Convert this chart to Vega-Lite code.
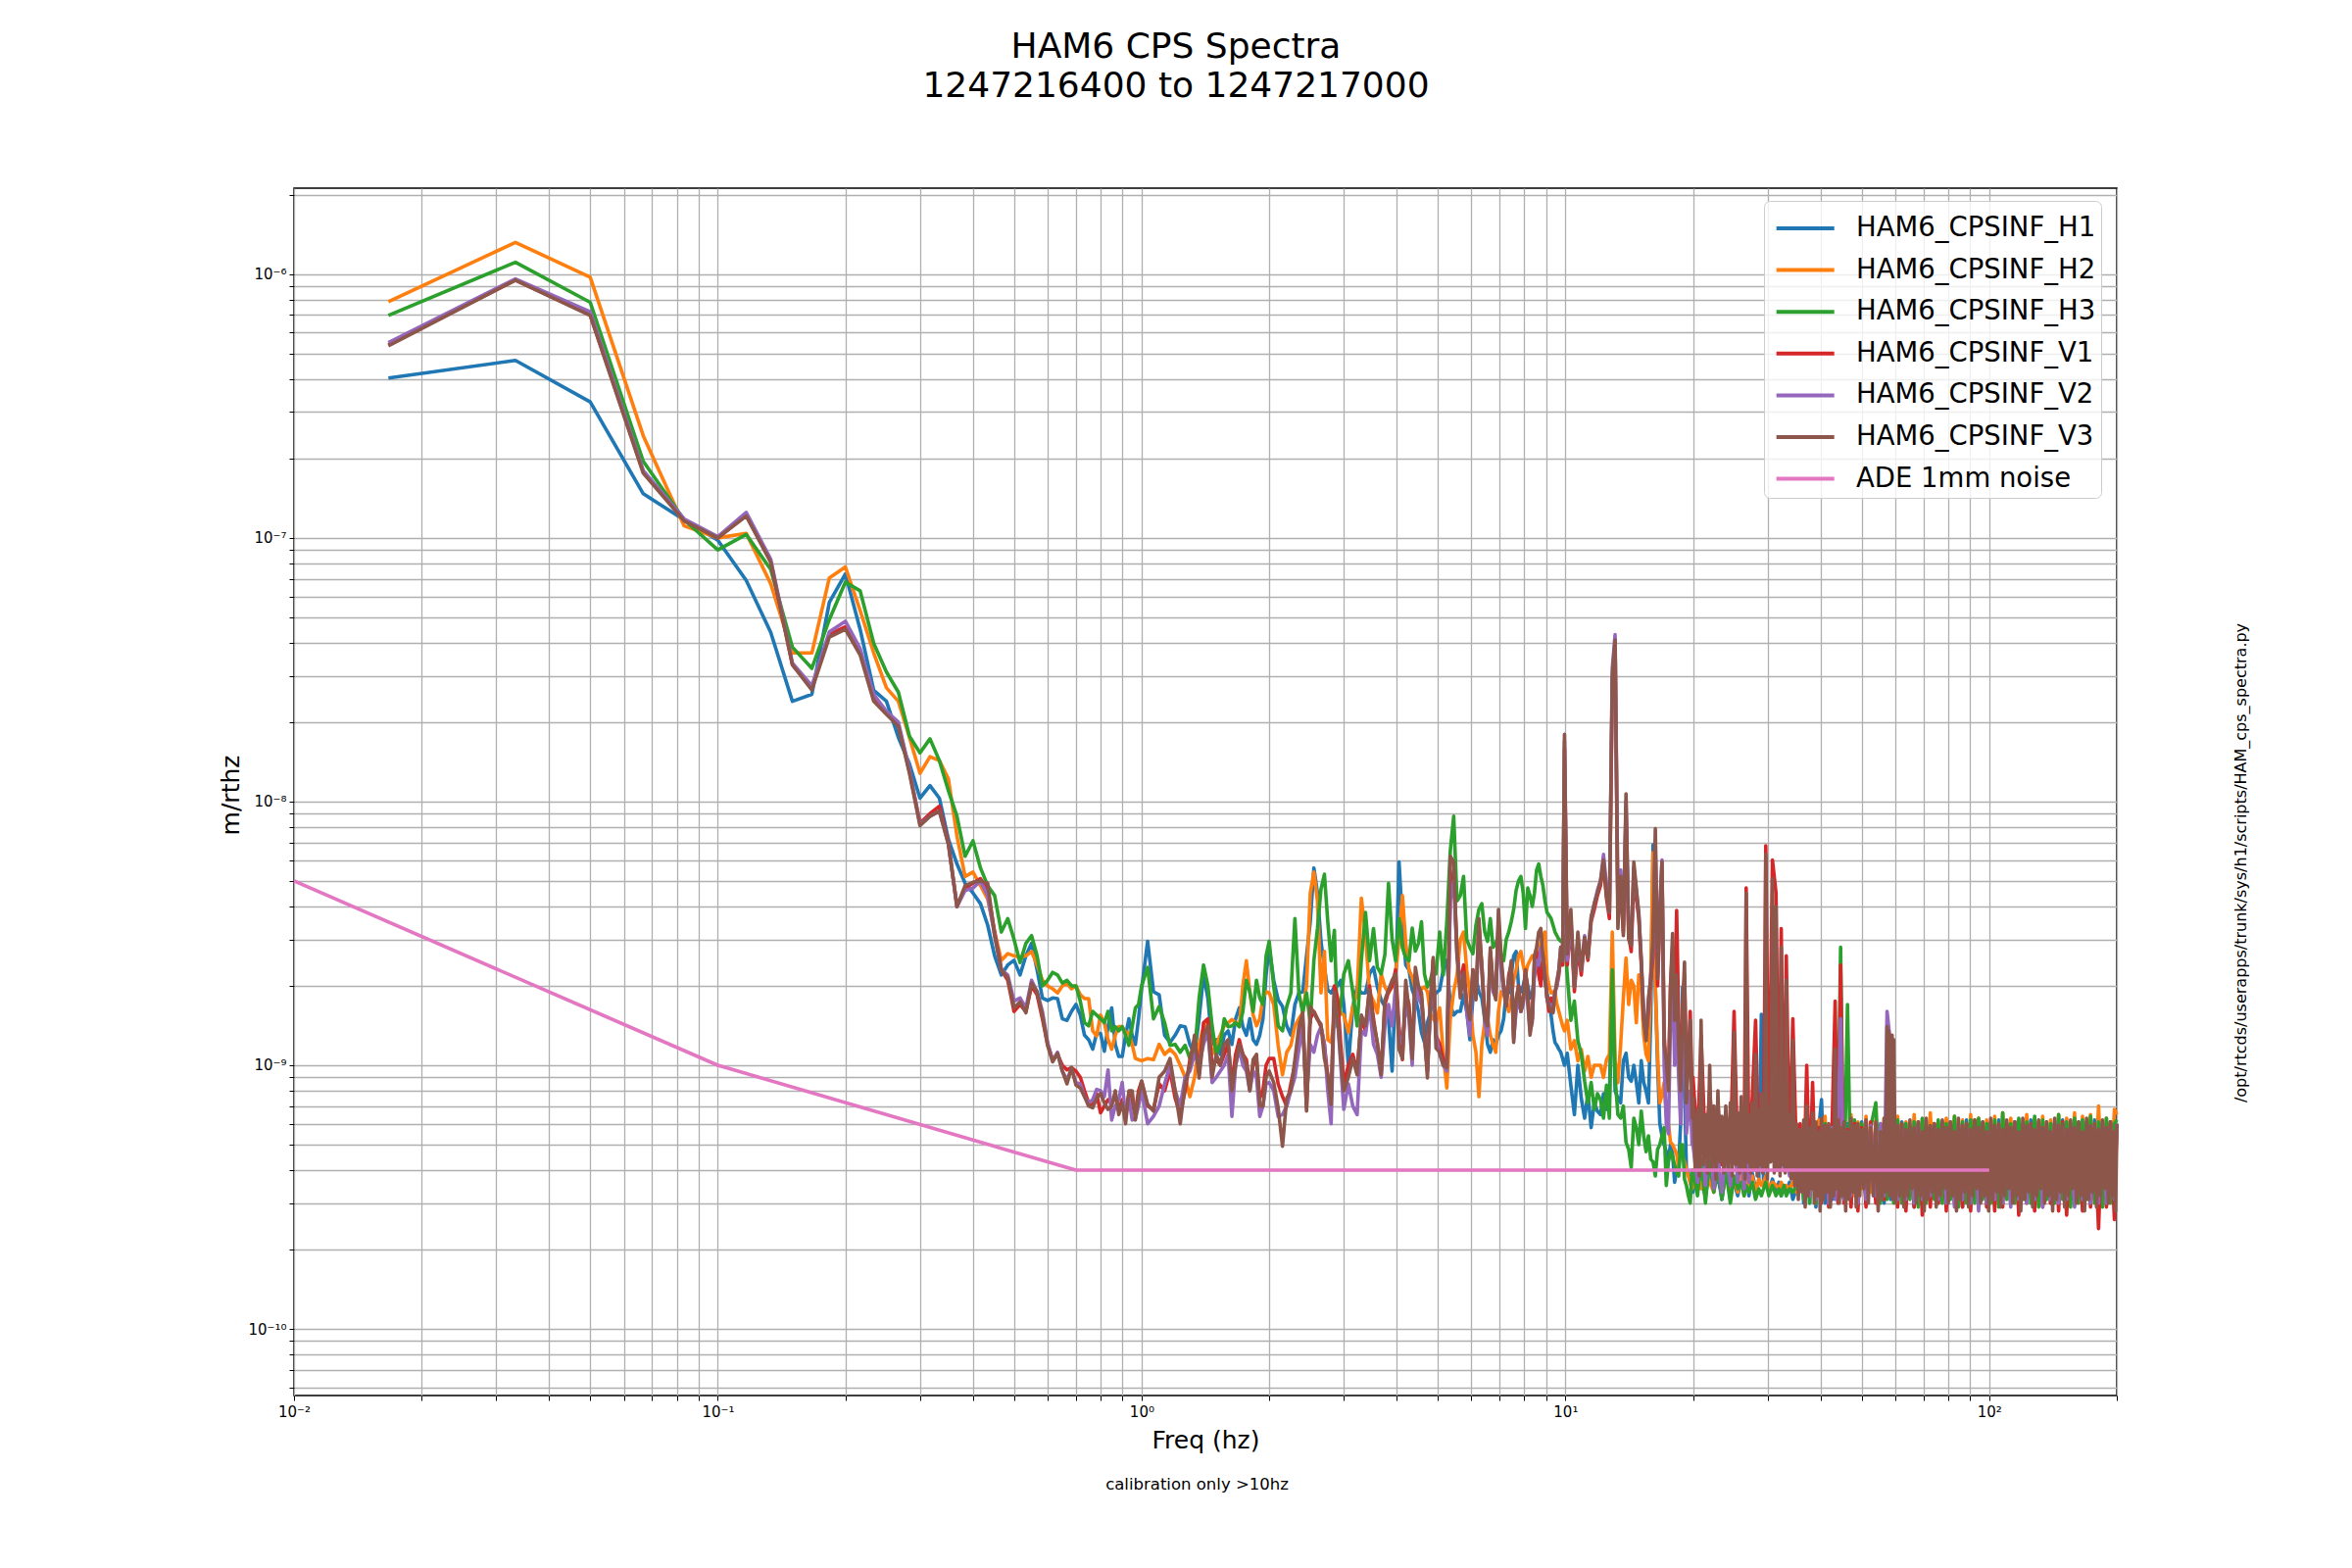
{
  "$schema": "https://vega.github.io/schema/vega-lite/v6.json",
  "width": 1860,
  "height": 1232,
  "autosize": {"type": "none"},
  "padding": {"left": 300, "top": 192, "right": 240, "bottom": 176},
  "background": "white",
  "title": {
    "text": ["HAM6 CPS Spectra", "1247216400 to 1247217000"],
    "fontSize": 36,
    "anchor": "middle",
    "dx": -30,
    "offset": 85,
    "lineHeight": 40
  },
  "datasets": {
    "ade": [
      {"f": 0.01, "a": 5e-9},
      {"f": 0.1, "a": 1e-9},
      {"f": 0.7, "a": 4e-10},
      {"f": 100, "a": 4e-10}
    ],
    "cps": [
      {"f":0.0167,"H1":4.04e-7,"H2":7.87e-7,"H3":6.98e-7,"V1":5.4e-7,"V2":5.5e-7,"V3":5.35e-7},
      {"f":0.0333,"H1":4.71e-7,"H2":1.32e-6,"H3":1.11e-6,"V1":9.5e-7,"V2":9.6e-7,"V3":9.5e-7},
      {"f":0.05,"H1":3.28e-7,"H2":9.74e-7,"H3":7.82e-7,"V1":7.0e-7,"V2":7.2e-7,"V3":6.98e-7},
      {"f":0.0667,"H1":1.47e-7,"H2":2.44e-7,"H3":1.95e-7,"V1":1.78e-7,"V2":1.8e-7,"V3":1.76e-7},
      {"f":0.0833,"H1":1.17e-7,"H2":1.11e-7,"H3":1.17e-7,"V1":1.17e-7,"V2":1.18e-7,"V3":1.16e-7},
      {"f":0.1,"H1":9.8e-8,"H2":1.0e-7,"H3":9.0e-8,"V1":1.0e-7,"V2":1.01e-7,"V3":1.0e-7},
      {"f":0.1167,"H1":6.9e-8,"H2":1.04e-7,"H3":1.03e-7,"V1":1.22e-7,"V2":1.25e-7,"V3":1.21e-7},
      {"f":0.1333,"H1":4.38e-8,"H2":6.7e-8,"H3":7.6e-8,"V1":8.1e-8,"V2":8.3e-8,"V3":8.1e-8},
      {"f":0.15,"H1":2.4e-8,"H2":3.66e-8,"H3":3.85e-8,"V1":3.3e-8,"V2":3.35e-8,"V3":3.3e-8},
      {"f":0.1667,"H1":2.55e-8,"H2":3.66e-8,"H3":3.2e-8,"V1":2.7e-8,"V2":2.75e-8,"V3":2.65e-8},
      {"f":0.1833,"H1":5.7e-8,"H2":7.05e-8,"H3":4.9e-8,"V1":4.3e-8,"V2":4.4e-8,"V3":4.2e-8},
      {"f":0.2,"H1":7.3e-8,"H2":7.76e-8,"H3":6.8e-8,"V1":4.6e-8,"V2":4.83e-8,"V3":4.5e-8},
      {"f":0.2167,"H1":4.5e-8,"H2":5.3e-8,"H3":6.3e-8,"V1":3.7e-8,"V2":3.8e-8,"V3":3.6e-8},
      {"f":0.2333,"H1":2.64e-8,"H2":3.66e-8,"H3":3.98e-8,"V1":2.5e-8,"V2":2.55e-8,"V3":2.4e-8},
      {"f":0.25,"H1":2.4e-8,"H2":2.7e-8,"H3":3.1e-8,"V1":2.16e-8,"V2":2.2e-8,"V3":2.14e-8},
      {"f":0.2667,"H1":1.75e-8,"H2":2.4e-8,"H3":2.6e-8,"V1":1.95e-8,"V2":2.0e-8,"V3":1.93e-8},
      {"f":0.2833,"H1":1.39e-8,"H2":1.75e-8,"H3":1.77e-8,"V1":1.3e-8,"V2":1.32e-8,"V3":1.28e-8},
      {"f":0.3,"H1":1.03e-8,"H2":1.28e-8,"H3":1.53e-8,"V1":8.3e-9,"V2":8.2e-9,"V3":8.1e-9},
      {"f":0.3167,"H1":1.15e-8,"H2":1.48e-8,"H3":1.73e-8,"V1":9.0e-9,"V2":8.8e-9,"V3":8.8e-9},
      {"f":0.3333,"H1":1.03e-8,"H2":1.43e-8,"H3":1.43e-8,"V1":9.6e-9,"V2":9.2e-9,"V3":9.2e-9},
      {"f":0.35,"H1":7.2e-9,"H2":1.22e-8,"H3":1.1e-8,"V1":7.0e-9,"V2":6.9e-9,"V3":6.9e-9},
      {"f":0.3667,"H1":5.8e-9,"H2":7.4e-9,"H3":8.8e-9,"V1":4.0e-9,"V2":4.0e-9,"V3":4.0e-9},
      {"f":0.3833,"H1":4.9e-9,"H2":5.2e-9,"H3":6.2e-9,"V1":4.7e-9,"V2":4.6e-9,"V3":4.8e-9},
      {"f":0.4,"H1":4.5e-9,"H2":5.4e-9,"H3":7.1e-9,"V1":4.9e-9,"V2":4.7e-9,"V3":4.94e-9},
      {"f":0.4167,"H1":4.1e-9,"H2":4.8e-9,"H3":5.6e-9,"V1":5.1e-9,"V2":5.0e-9,"V3":5.0e-9},
      {"f":0.4333,"H1":3.4e-9,"H2":4.27e-9,"H3":4.8e-9,"V1":4.6e-9,"V2":4.4e-9,"V3":4.9e-9},
      {"f":0.45,"H1":2.6e-9,"H2":3.2e-9,"H3":4.4e-9,"V1":3.2e-9,"V2":3.1e-9,"V3":3.1e-9},
      {"f":0.4667,"H1":2.2e-9,"H2":2.5e-9,"H3":3.2e-9,"V1":2.3e-9,"V2":2.3e-9,"V3":2.3e-9},
      {"f":0.4833,"H1":2.4e-9,"H2":2.65e-9,"H3":3.6e-9,"V1":2.1e-9,"V2":2.2e-9,"V3":2.15e-9},
      {"f":0.5,"H1":2.5e-9,"H2":2.6e-9,"H3":3.0e-9,"V1":1.6e-9,"V2":1.75e-9,"V3":1.65e-9},
      {"f":0.5167,"H1":2.2e-9,"H2":2.57e-9,"H3":2.45e-9,"V1":1.7e-9,"V2":1.8e-9,"V3":1.74e-9},
      {"f":0.5333,"H1":2.6e-9,"H2":2.6e-9,"H3":2.9e-9,"V1":1.6e-9,"V2":1.65e-9,"V3":1.58e-9},
      {"f":0.55,"H1":2.9e-9,"H2":2.7e-9,"H3":3.1e-9,"V1":2.0e-9,"V2":2.1e-9,"V3":2.05e-9},
      {"f":0.5667,"H1":2.3e-9,"H2":2.4e-9,"H3":2.6e-9,"V1":1.85e-9,"V2":1.9e-9,"V3":1.9e-9},
      {"f":0.5833,"H1":1.8e-9,"H2":2.1e-9,"H3":2.0e-9,"V1":1.5e-9,"V2":1.6e-9,"V3":1.55e-9},
      {"f":0.6,"H1":1.76e-9,"H2":2.0e-9,"H3":2.1e-9,"V1":1.2e-9,"V2":1.22e-9,"V3":1.19e-9},
      {"f":0.6167,"H1":1.8e-9,"H2":1.95e-9,"H3":2.25e-9,"V1":1.05e-9,"V2":1.04e-9,"V3":1.03e-9},
      {"f":0.6333,"H1":1.79e-9,"H2":1.88e-9,"H3":2.2e-9,"V1":1.1e-9,"V2":1.12e-9,"V3":1.11e-9},
      {"f":0.65,"H1":1.5e-9,"H2":2.0e-9,"H3":2.05e-9,"V1":1.0e-9,"V2":9.5e-10,"V3":9.5e-10},
      {"f":0.6667,"H1":1.48e-9,"H2":2.04e-9,"H3":2.1e-9,"V1":9.6e-10,"V2":8.8e-10,"V3":8.5e-10},
      {"f":0.6833,"H1":1.6e-9,"H2":1.95e-9,"H3":2.0e-9,"V1":9.8e-10,"V2":9.7e-10,"V3":9.8e-10},
      {"f":0.7,"H1":1.7e-9,"H2":2.0e-9,"H3":2.0e-9,"V1":9.5e-10,"V2":8.6e-10,"V3":8.4e-10},
      {"f":0.7167,"H1":1.55e-9,"H2":1.85e-9,"H3":1.75e-9,"V1":9.0e-10,"V2":8.5e-10,"V3":8.2e-10},
      {"f":0.7333,"H1":1.3e-9,"H2":1.79e-9,"H3":1.45e-9,"V1":8.0e-10,"V2":7.6e-10,"V3":7.6e-10},
      {"f":0.75,"H1":1.25e-9,"H2":1.79e-9,"H3":1.41e-9,"V1":7.2e-10,"V2":7.2e-10,"V3":7.0e-10},
      {"f":0.7667,"H1":1.15e-9,"H2":1.35e-9,"H3":1.6e-9,"V1":7.0e-10,"V2":7.4e-10,"V3":6.9e-10},
      {"f":0.7833,"H1":1.32e-9,"H2":1.29e-9,"H3":1.55e-9,"V1":7.8e-10,"V2":8.1e-10,"V3":7.5e-10},
      {"f":0.8,"H1":1.32e-9,"H2":1.55e-9,"H3":1.5e-9,"V1":6.6e-10,"V2":8.0e-10,"V3":7.8e-10},
      {"f":0.8167,"H1":1.13e-9,"H2":1.45e-9,"H3":1.45e-9,"V1":7.0e-10,"V2":7.6e-10,"V3":7.2e-10},
      {"f":0.8333,"H1":1.4e-9,"H2":1.25e-9,"H3":1.6e-9,"V1":7.4e-10,"V2":9.6e-10,"V3":6.8e-10},
      {"f":0.85,"H1":1.65e-9,"H2":1.15e-9,"H3":1.35e-9,"V1":7.2e-10,"V2":6.2e-10,"V3":7.0e-10},
      {"f":0.8667,"H1":1.2e-9,"H2":1.3e-9,"H3":1.4e-9,"V1":7.6e-10,"V2":7.0e-10,"V3":8.0e-10},
      {"f":0.8833,"H1":1.08e-9,"H2":1.4e-9,"H3":1.35e-9,"V1":6.8e-10,"V2":7.4e-10,"V3":6.5e-10},
      {"f":0.9,"H1":1.08e-9,"H2":1.4e-9,"H3":1.4e-9,"V1":7.4e-10,"V2":8.6e-10,"V3":7.2e-10},
      {"f":0.9167,"H1":1.3e-9,"H2":1.33e-9,"H3":1.3e-9,"V1":6.6e-10,"V2":6.4e-10,"V3":6.0e-10},
      {"f":0.9333,"H1":1.5e-9,"H2":1.33e-9,"H3":1.19e-9,"V1":7.8e-10,"V2":7.5e-10,"V3":8.0e-10},
      {"f":0.95,"H1":1.3e-9,"H2":1.2e-9,"H3":1.4e-9,"V1":7.0e-10,"V2":6.2e-10,"V3":8.0e-10},
      {"f":0.9667,"H1":1.2e-9,"H2":1.06e-9,"H3":1.65e-9,"V1":6.6e-10,"V2":6.3e-10,"V3":6.2e-10},
      {"f":0.9833,"H1":1.5e-9,"H2":1.05e-9,"H3":1.7e-9,"V1":8.0e-10,"V2":7.0e-10,"V3":7.6e-10},
      {"f":1.0,"H1":1.95e-9,"H2":1.04e-9,"H3":2.0e-9,"V1":8.7e-10,"V2":8.0e-10,"V3":8.7e-10},
      {"f":1.0333,"H1":2.95e-9,"H2":1.06e-9,"H3":2.35e-9,"V1":7.0e-10,"V2":6.0e-10,"V3":7.1e-10},
      {"f":1.0667,"H1":1.9e-9,"H2":1.05e-9,"H3":1.5e-9,"V1":6.8e-10,"V2":6.4e-10,"V3":6.7e-10},
      {"f":1.1,"H1":1.85e-9,"H2":1.2e-9,"H3":1.67e-9,"V1":8.5e-10,"V2":7.0e-10,"V3":9.0e-10},
      {"f":1.1333,"H1":1.3e-9,"H2":1.1e-9,"H3":1.45e-9,"V1":8.0e-10,"V2":8.5e-10,"V3":9.5e-10},
      {"f":1.1667,"H1":1.22e-9,"H2":1.15e-9,"H3":1.19e-9,"V1":9.5e-10,"V2":1.0e-9,"V3":1.06e-9},
      {"f":1.2,"H1":1.3e-9,"H2":1.1e-9,"H3":1.2e-9,"V1":7.5e-10,"V2":8.0e-10,"V3":8.0e-10},
      {"f":1.2333,"H1":1.41e-9,"H2":1.0e-9,"H3":1.12e-9,"V1":6.5e-10,"V2":7.0e-10,"V3":6.0e-10},
      {"f":1.2667,"H1":1.4e-9,"H2":9.0e-10,"H3":1.19e-9,"V1":8.0e-10,"V2":9.0e-10,"V3":8.5e-10},
      {"f":1.3,"H1":1.2e-9,"H2":7.6e-10,"H3":1.06e-9,"V1":1.05e-9,"V2":9.5e-10,"V3":1.0e-9},
      {"f":1.3333,"H1":1.1e-9,"H2":9.0e-10,"H3":1.1e-9,"V1":1.25e-9,"V2":1.1e-9,"V3":1.3e-9},
      {"f":1.3667,"H1":1.5e-9,"H2":1.2e-9,"H3":1.8e-9,"V1":9.5e-10,"V2":1.0e-9,"V3":8.95e-10},
      {"f":1.4,"H1":2.2e-9,"H2":1.4e-9,"H3":2.4e-9,"V1":1.45e-9,"V2":1.2e-9,"V3":1.3e-9},
      {"f":1.4333,"H1":1.8e-9,"H2":1.45e-9,"H3":2.0e-9,"V1":1.5e-9,"V2":1.35e-9,"V3":1.41e-9},
      {"f":1.4667,"H1":1.2e-9,"H2":1.1e-9,"H3":1.41e-9,"V1":1.0e-9,"V2":8.6e-10,"V3":9.0e-10},
      {"f":1.5,"H1":1.25e-9,"H2":1.2e-9,"H3":1.1e-9,"V1":1.05e-9,"V2":9.0e-10,"V3":1.1e-9},
      {"f":1.5333,"H1":1.1e-9,"H2":1.3e-9,"H3":1.2e-9,"V1":1.0e-9,"V2":9.5e-10,"V3":1.0e-9},
      {"f":1.5667,"H1":1.3e-9,"H2":1.41e-9,"H3":1.5e-9,"V1":1.1e-9,"V2":1.0e-9,"V3":1.2e-9},
      {"f":1.6,"H1":1.35e-9,"H2":1.45e-9,"H3":1.4e-9,"V1":1.2e-9,"V2":1.1e-9,"V3":1.25e-9},
      {"f":1.6333,"H1":1.2e-9,"H2":1.49e-9,"H3":1.41e-9,"V1":8.5e-10,"V2":6.4e-10,"V3":8.0e-10},
      {"f":1.6667,"H1":1.5e-9,"H2":1.45e-9,"H3":1.45e-9,"V1":1.1e-9,"V2":1.0e-9,"V3":1.0e-9},
      {"f":1.7,"H1":1.65e-9,"H2":1.4e-9,"H3":1.4e-9,"V1":1.25e-9,"V2":1.15e-9,"V3":1.2e-9},
      {"f":1.7333,"H1":1.4e-9,"H2":2.0e-9,"H3":1.6e-9,"V1":1.1e-9,"V2":1.0e-9,"V3":1.1e-9},
      {"f":1.7667,"H1":1.3e-9,"H2":2.49e-9,"H3":2.1e-9,"V1":1.05e-9,"V2":9.5e-10,"V3":1.0e-9},
      {"f":1.8,"H1":1.5e-9,"H2":1.9e-9,"H3":1.9e-9,"V1":8.5e-10,"V2":8.0e-10,"V3":8.0e-10},
      {"f":1.8333,"H1":1.25e-9,"H2":1.55e-9,"H3":1.6e-9,"V1":1.0e-9,"V2":9.5e-10,"V3":1.05e-9},
      {"f":1.8667,"H1":1.2e-9,"H2":1.41e-9,"H3":2.1e-9,"V1":1.05e-9,"V2":9.0e-10,"V3":1.1e-9},
      {"f":1.9,"H1":1.3e-9,"H2":1.5e-9,"H3":1.8e-9,"V1":7.5e-10,"V2":6.4e-10,"V3":7.0e-10},
      {"f":1.9333,"H1":1.5e-9,"H2":1.8e-9,"H3":1.7e-9,"V1":8.0e-10,"V2":7.0e-10,"V3":7.0e-10},
      {"f":1.9667,"H1":2.2e-9,"H2":1.9e-9,"H3":2.6e-9,"V1":1.0e-9,"V2":8.5e-10,"V3":9.0e-10},
      {"f":2.0,"H1":2.8e-9,"H2":1.88e-9,"H3":2.95e-9,"V1":1.06e-9,"V2":8.6e-10,"V3":9.5e-10},
      {"f":2.05,"H1":2.1e-9,"H2":1.7e-9,"H3":2.0e-9,"V1":1.06e-9,"V2":8.0e-10,"V3":8.6e-10},
      {"f":2.1,"H1":1.77e-9,"H2":1.19e-9,"H3":1.41e-9,"V1":8.5e-10,"V2":6.4e-10,"V3":6.9e-10},
      {"f":2.15,"H1":1.67e-9,"H2":9.2e-10,"H3":1.35e-9,"V1":7.6e-10,"V2":6.5e-10,"V3":4.93e-10},
      {"f":2.2,"H1":1.41e-9,"H2":1.12e-9,"H3":1.67e-9,"V1":7.0e-10,"V2":7.0e-10,"V3":7.5e-10},
      {"f":2.25,"H1":1.3e-9,"H2":1.19e-9,"H3":1.88e-9,"V1":8.5e-10,"V2":8.0e-10,"V3":8.0e-10},
      {"f":2.3,"H1":1.7e-9,"H2":1.41e-9,"H3":3.6e-9,"V1":1.0e-9,"V2":9.0e-10,"V3":1.05e-9},
      {"f":2.35,"H1":1.88e-9,"H2":1.5e-9,"H3":1.88e-9,"V1":1.3e-9,"V2":1.15e-9,"V3":1.4e-9},
      {"f":2.4,"H1":1.9e-9,"H2":1.58e-9,"H3":1.58e-9,"V1":1.5e-9,"V2":1.4e-9,"V3":1.58e-9},
      {"f":2.45,"H1":2.6e-9,"H2":2.0e-9,"H3":1.88e-9,"V1":6.9e-10,"V2":7.5e-10,"V3":6.7e-10},
      {"f":2.5,"H1":3.5e-9,"H2":4.5e-9,"H3":1.45e-9,"V1":1.5e-9,"V2":1.2e-9,"V3":1.67e-9},
      {"f":2.55,"H1":5.6e-9,"H2":5.4e-9,"H3":2.5e-9,"V1":1.6e-9,"V2":1.12e-9,"V3":1.58e-9},
      {"f":2.6,"H1":4.5e-9,"H2":4.2e-9,"H3":3.3e-9,"V1":1.5e-9,"V2":1.3e-9,"V3":1.49e-9},
      {"f":2.65,"H1":2.95e-9,"H2":1.88e-9,"H3":4.65e-9,"V1":1.4e-9,"V2":1.4e-9,"V3":1.43e-9},
      {"f":2.7,"H1":2.35e-9,"H2":2.7e-9,"H3":5.3e-9,"V1":1.2e-9,"V2":1.2e-9,"V3":1.06e-9},
      {"f":2.75,"H1":1.93e-9,"H2":1.25e-9,"H3":3.5e-9,"V1":9.0e-10,"V2":8.0e-10,"V3":9.2e-10},
      {"f":2.8,"H1":1.88e-9,"H2":1.22e-9,"H3":2.49e-9,"V1":7.6e-10,"V2":6.0e-10,"V3":7.1e-10},
      {"f":2.85,"H1":1.98e-9,"H2":1.5e-9,"H3":3.25e-9,"V1":2.0e-9,"V2":1.8e-9,"V3":1.9e-9},
      {"f":2.9,"H1":2.0e-9,"H2":1.77e-9,"H3":1.4e-9,"V1":1.8e-9,"V2":1.5e-9,"V3":1.5e-9},
      {"f":2.95,"H1":2.1e-9,"H2":1.58e-9,"H3":1.67e-9,"V1":1.2e-9,"V2":1.0e-9,"V3":1.06e-9},
      {"f":3.0,"H1":1.7e-9,"H2":1.55e-9,"H3":2.22e-9,"V1":8.5e-10,"V2":6.8e-10,"V3":8.0e-10},
      {"f":3.075,"H1":1.0e-9,"H2":1.33e-9,"H3":2.49e-9,"V1":1.0e-9,"V2":8.5e-10,"V3":9.0e-10},
      {"f":3.15,"H1":1.67e-9,"H2":1.67e-9,"H3":1.9e-9,"V1":1.1e-9,"V2":7.0e-10,"V3":1.06e-9},
      {"f":3.225,"H1":1.98e-9,"H2":1.88e-9,"H3":1.41e-9,"V1":9.5e-10,"V2":6.5e-10,"V3":9.2e-10},
      {"f":3.3,"H1":1.88e-9,"H2":4.3e-9,"H3":2.5e-9,"V1":1.5e-9,"V2":1.35e-9,"V3":1.55e-9},
      {"f":3.375,"H1":1.88e-9,"H2":3.13e-9,"H3":3.8e-9,"V1":1.35e-9,"V2":1.3e-9,"V3":1.41e-9},
      {"f":3.45,"H1":2.22e-9,"H2":1.88e-9,"H3":2.49e-9,"V1":2.0e-9,"V2":1.7e-9,"V3":1.93e-9},
      {"f":3.525,"H1":2.35e-9,"H2":1.75e-9,"H3":3.3e-9,"V1":1.5e-9,"V2":1.2e-9,"V3":1.45e-9},
      {"f":3.6,"H1":1.98e-9,"H2":1.58e-9,"H3":2.35e-9,"V1":1.2e-9,"V2":1.1e-9,"V3":1.22e-9},
      {"f":3.675,"H1":1.77e-9,"H2":2.22e-9,"H3":2.22e-9,"V1":9.5e-10,"V2":9.0e-10,"V3":9.2e-10},
      {"f":3.75,"H1":1.67e-9,"H2":1.98e-9,"H3":2.63e-9,"V1":1.7e-9,"V2":1.4e-9,"V3":1.77e-9},
      {"f":3.825,"H1":1.5e-9,"H2":1.88e-9,"H3":4.9e-9,"V1":1.9e-9,"V2":1.7e-9,"V3":1.93e-9},
      {"f":3.9,"H1":9.5e-10,"H2":1.98e-9,"H3":3.0e-9,"V1":2.0e-9,"V2":1.41e-9,"V3":2.1e-9},
      {"f":3.975,"H1":2.0e-9,"H2":2.22e-9,"H3":2.49e-9,"V1":2.3e-9,"V2":2.0e-9,"V3":2.22e-9},
      {"f":4.05,"H1":5.9e-9,"H2":3.0e-9,"H3":3.6e-9,"V1":1.4e-9,"V2":1.3e-9,"V3":1.15e-9},
      {"f":4.125,"H1":3.5e-9,"H2":4.4e-9,"H3":2.79e-9,"V1":1.05e-9,"V2":1.2e-9,"V3":1.06e-9},
      {"f":4.2,"H1":2.4e-9,"H2":2.9e-9,"H3":2.56e-9,"V1":1.9e-9,"V2":1.7e-9,"V3":2.1e-9},
      {"f":4.275,"H1":2.3e-9,"H2":2.3e-9,"H3":2.49e-9,"V1":1.7e-9,"V2":1.5e-9,"V3":1.6e-9},
      {"f":4.35,"H1":1.93e-9,"H2":2.16e-9,"H3":3.31e-9,"V1":1.1e-9,"V2":1.0e-9,"V3":1.06e-9},
      {"f":4.425,"H1":1.8e-9,"H2":1.93e-9,"H3":2.71e-9,"V1":2.2e-9,"V2":2.0e-9,"V3":2.35e-9},
      {"f":4.5,"H1":1.6e-9,"H2":1.88e-9,"H3":2.9e-9,"V1":1.9e-9,"V2":1.8e-9,"V3":2.0e-9},
      {"f":4.575,"H1":1.33e-9,"H2":1.95e-9,"H3":3.5e-9,"V1":1.8e-9,"V2":1.7e-9,"V3":1.88e-9},
      {"f":4.65,"H1":1.22e-9,"H2":1.98e-9,"H3":2.22e-9,"V1":1.3e-9,"V2":1.3e-9,"V3":1.3e-9},
      {"f":4.725,"H1":1.45e-9,"H2":1.9e-9,"H3":1.98e-9,"V1":9.5e-10,"V2":9.5e-10,"V3":8.95e-10},
      {"f":4.8,"H1":1.58e-9,"H2":1.58e-9,"H3":2.1e-9,"V1":1.7e-9,"V2":1.6e-9,"V3":1.7e-9},
      {"f":4.875,"H1":1.8e-9,"H2":1.5e-9,"H3":2.3e-9,"V1":2.5e-9,"V2":2.3e-9,"V3":2.56e-9},
      {"f":4.95,"H1":1.88e-9,"H2":1.45e-9,"H3":2.22e-9,"V1":1.3e-9,"V2":1.3e-9,"V3":1.16e-9},
      {"f":5.05,"H1":1.93e-9,"H2":1.65e-9,"H3":3.2e-9,"V1":1.2e-9,"V2":1.1e-9,"V3":1.12e-9},
      {"f":5.15,"H1":2.3e-9,"H2":1.1e-9,"H3":2.2e-9,"V1":1.05e-9,"V2":1.0e-9,"V3":1.0e-9},
      {"f":5.25,"H1":2.5e-9,"H2":8.2e-10,"H3":3.5e-9,"V1":1.0e-9,"V2":9.5e-10,"V3":9.8e-10},
      {"f":5.35,"H1":1.7e-9,"H2":1.5e-9,"H3":6.5e-9,"V1":4.5e-9,"V2":4.2e-9,"V3":6.2e-9},
      {"f":5.45,"H1":1.55e-9,"H2":1.9e-9,"H3":8.8e-9,"V1":5.5e-9,"V2":5.0e-9,"V3":5.9e-9},
      {"f":5.55,"H1":1.6e-9,"H2":2.2e-9,"H3":4.2e-9,"V1":2.7e-9,"V2":2.6e-9,"V3":2.6e-9},
      {"f":5.65,"H1":1.6e-9,"H2":3.0e-9,"H3":4.4e-9,"V1":2.0e-9,"V2":2.0e-9,"V3":1.8e-9},
      {"f":5.75,"H1":1.85e-9,"H2":3.2e-9,"H3":5.2e-9,"V1":2.4e-9,"V2":2.2e-9,"V3":2.25e-9},
      {"f":5.85,"H1":1.6e-9,"H2":2.3e-9,"H3":3.0e-9,"V1":1.7e-9,"V2":1.6e-9,"V3":1.7e-9},
      {"f":5.95,"H1":1.25e-9,"H2":1.88e-9,"H3":2.8e-9,"V1":1.5e-9,"V2":1.3e-9,"V3":1.49e-9},
      {"f":6.05,"H1":1.8e-9,"H2":1.3e-9,"H3":2.65e-9,"V1":2.3e-9,"V2":2.2e-9,"V3":2.3e-9},
      {"f":6.15,"H1":2.15e-9,"H2":1.12e-9,"H3":3.4e-9,"V1":1.8e-9,"V2":1.8e-9,"V3":1.77e-9},
      {"f":6.25,"H1":1.9e-9,"H2":7.6e-10,"H3":3.9e-9,"V1":3.4e-9,"V2":3.0e-9,"V3":3.6e-9},
      {"f":6.35,"H1":1.8e-9,"H2":1.2e-9,"H3":4.1e-9,"V1":2.4e-9,"V2":2.4e-9,"V3":2.3e-9},
      {"f":6.45,"H1":1.5e-9,"H2":1.45e-9,"H3":3.2e-9,"V1":1.6e-9,"V2":1.45e-9,"V3":1.5e-9},
      {"f":6.55,"H1":1.2e-9,"H2":1.5e-9,"H3":2.95e-9,"V1":1.4e-9,"V2":1.3e-9,"V3":1.41e-9},
      {"f":6.65,"H1":1.12e-9,"H2":1.3e-9,"H3":3.6e-9,"V1":2.7e-9,"V2":2.6e-9,"V3":2.79e-9},
      {"f":6.75,"H1":1.25e-9,"H2":1.19e-9,"H3":2.8e-9,"V1":2.0e-9,"V2":1.9e-9,"V3":2.0e-9},
      {"f":6.85,"H1":1.2e-9,"H2":1.12e-9,"H3":2.9e-9,"V1":1.8e-9,"V2":1.8e-9,"V3":1.77e-9},
      {"f":6.95,"H1":1.3e-9,"H2":1.6e-9,"H3":3.1e-9,"V1":3.6e-9,"V2":3.4e-9,"V3":3.9e-9},
      {"f":7.05,"H1":1.35e-9,"H2":1.9e-9,"H3":2.6e-9,"V1":2.4e-9,"V2":2.3e-9,"V3":2.6e-9},
      {"f":7.15,"H1":1.5e-9,"H2":1.88e-9,"H3":2.49e-9,"V1":2.0e-9,"V2":1.9e-9,"V3":2.0e-9},
      {"f":7.25,"H1":1.9e-9,"H2":1.7e-9,"H3":3.0e-9,"V1":1.7e-9,"V2":1.7e-9,"V3":1.67e-9},
      {"f":7.35,"H1":1.88e-9,"H2":1.6e-9,"H3":3.2e-9,"V1":2.2e-9,"V2":2.1e-9,"V3":2.1e-9},
      {"f":7.45,"H1":2.2e-9,"H2":1.8e-9,"H3":3.5e-9,"V1":2.4e-9,"V2":2.35e-9,"V3":2.49e-9},
      {"f":7.55,"H1":2.6e-9,"H2":2.1e-9,"H3":3.9e-9,"V1":1.3e-9,"V2":1.25e-9,"V3":1.22e-9},
      {"f":7.65,"H1":2.7e-9,"H2":2.3e-9,"H3":4.6e-9,"V1":1.7e-9,"V2":1.6e-9,"V3":1.8e-9},
      {"f":7.75,"H1":2.0e-9,"H2":2.6e-9,"H3":5.0e-9,"V1":2.0e-9,"V2":1.8e-9,"V3":1.98e-9},
      {"f":7.85,"H1":1.9e-9,"H2":2.7e-9,"H3":5.2e-9,"V1":1.6e-9,"V2":1.6e-9,"V3":1.6e-9},
      {"f":7.95,"H1":2.0e-9,"H2":2.4e-9,"H3":4.5e-9,"V1":1.8e-9,"V2":1.7e-9,"V3":1.75e-9},
      {"f":8.05,"H1":2.2e-9,"H2":2.2e-9,"H3":3.3e-9,"V1":2.3e-9,"V2":2.2e-9,"V3":2.3e-9},
      {"f":8.15,"H1":2.0e-9,"H2":2.4e-9,"H3":4.7e-9,"V1":1.9e-9,"V2":1.7e-9,"V3":1.8e-9},
      {"f":8.25,"H1":1.8e-9,"H2":2.5e-9,"H3":4.4e-9,"V1":1.4e-9,"V2":1.35e-9,"V3":1.3e-9},
      {"f":8.35,"H1":1.85e-9,"H2":2.6e-9,"H3":4.0e-9,"V1":1.5e-9,"V2":1.45e-9,"V3":1.5e-9},
      {"f":8.45,"H1":2.2e-9,"H2":2.6e-9,"H3":4.5e-9,"V1":2.4e-9,"V2":2.2e-9,"V3":2.6e-9},
      {"f":8.55,"H1":2.4e-9,"H2":2.7e-9,"H3":5.5e-9,"V1":2.7e-9,"V2":2.5e-9,"V3":2.8e-9},
      {"f":8.65,"H1":2.5e-9,"H2":2.7e-9,"H3":5.8e-9,"V1":2.2e-9,"V2":2.4e-9,"V3":3.2e-9},
      {"f":8.75,"H1":2.3e-9,"H2":2.9e-9,"H3":5.2e-9,"V1":2.0e-9,"V2":2.8e-9,"V3":3.3e-9},
      {"f":8.85,"H1":2.2e-9,"H2":3.1e-9,"H3":4.8e-9,"V1":2.6e-9,"V2":2.6e-9,"V3":2.6e-9},
      {"f":8.95,"H1":2.1e-9,"H2":3.2e-9,"H3":4.2e-9,"V1":2.2e-9,"V2":2.2e-9,"V3":2.15e-9},
      {"f":9.05,"H1":1.88e-9,"H2":2.2e-9,"H3":3.8e-9,"V1":1.8e-9,"V2":1.8e-9,"V3":1.8e-9},
      {"f":9.15,"H1":1.7e-9,"H2":2.0e-9,"H3":3.7e-9,"V1":1.6e-9,"V2":1.7e-9,"V3":1.67e-9},
      {"f":9.25,"H1":1.55e-9,"H2":1.88e-9,"H3":3.6e-9,"V1":1.8e-9,"V2":1.7e-9,"V3":1.63e-9},
      {"f":9.35,"H1":1.35e-9,"H2":1.9e-9,"H3":3.4e-9,"V1":1.7e-9,"V2":1.6e-9,"V3":1.58e-9},
      {"f":9.45,"H1":1.22e-9,"H2":1.88e-9,"H3":3.2e-9,"V1":1.9e-9,"V2":1.9e-9,"V3":1.88e-9},
      {"f":9.55,"H1":1.19e-9,"H2":1.7e-9,"H3":3.1e-9,"V1":2.0e-9,"V2":2.0e-9,"V3":2.1e-9},
      {"f":9.65,"H1":1.15e-9,"H2":1.6e-9,"H3":3.0e-9,"V1":2.2e-9,"V2":2.3e-9,"V3":2.3e-9},
      {"f":9.75,"H1":1.12e-9,"H2":1.5e-9,"H3":2.95e-9,"V1":2.6e-9,"V2":2.8e-9,"V3":2.8e-9},
      {"f":9.85,"H1":1.06e-9,"H2":1.41e-9,"H3":3.0e-9,"V1":2.4e-9,"V2":2.5e-9,"V3":2.5e-9},
      {"f":9.95,"H1":1.0e-9,"H2":1.35e-9,"H3":3.1e-9,"V1":1.6e-8,"V2":1.7e-8,"V3":1.8e-8},
      {"f":10.1,"H1":1.11e-9,"H2":1.48e-9,"H3":2.2e-9,"V1":2.4e-9,"V2":2.5e-9,"V3":2.64e-9},
      {"f":10.3,"H1":8.4e-10,"H2":1.15e-9,"H3":1.48e-9,"V1":3.5e-9,"V2":3.6e-9,"V3":3.9e-9},
      {"f":10.5,"H1":6.5e-10,"H2":1.24e-9,"H3":1.75e-9,"V1":1.9e-9,"V2":2.0e-9,"V3":1.98e-9},
      {"f":10.7,"H1":1.0e-9,"H2":1.04e-9,"H3":1.24e-9,"V1":2.8e-9,"V2":3.0e-9,"V3":3.2e-9},
      {"f":10.9,"H1":7.5e-10,"H2":1.15e-9,"H3":1.1e-9,"V1":2.2e-9,"V2":2.3e-9,"V3":2.3e-9},
      {"f":11.1,"H1":6.3e-10,"H2":9.5e-10,"H3":8.7e-10,"V1":3.0e-9,"V2":3.1e-9,"V3":3.05e-9},
      {"f":11.3,"H1":7.8e-10,"H2":1.08e-9,"H3":7.2e-10,"V1":2.5e-9,"V2":2.6e-9,"V3":2.55e-9},
      {"f":11.5,"H1":5.8e-10,"H2":9.0e-10,"H3":8.6e-10,"V1":3.5e-9,"V2":3.6e-9,"V3":3.65e-9},
      {"f":11.7,"H1":7.2e-10,"H2":1.0e-9,"H3":6.8e-10,"V1":3.9e-9,"V2":4.1e-9,"V3":4.1e-9},
      {"f":11.9,"H1":6.7e-10,"H2":1.0e-9,"H3":7.8e-10,"V1":4.4e-9,"V2":4.6e-9,"V3":4.5e-9},
      {"f":12.1,"H1":6.5e-10,"H2":1.0e-9,"H3":7.4e-10,"V1":4.8e-9,"V2":5.0e-9,"V3":5.0e-9},
      {"f":12.3,"H1":7.8e-10,"H2":9.0e-10,"H3":6.3e-10,"V1":5.8e-9,"V2":6.3e-9,"V3":6.0e-9},
      {"f":12.5,"H1":6.8e-10,"H2":1.05e-9,"H3":8.4e-10,"V1":4.3e-9,"V2":4.8e-9,"V3":4.4e-9},
      {"f":12.7,"H1":7.5e-10,"H2":1.1e-9,"H3":6.3e-10,"V1":3.6e-9,"V2":3.8e-9,"V3":3.8e-9},
      {"f":12.9,"H1":2.2e-9,"H2":3.2e-9,"H3":2.3e-9,"V1":2.8e-8,"V2":3.2e-8,"V3":3.0e-8},
      {"f":13.1,"H1":8.0e-10,"H2":1.04e-9,"H3":9.0e-10,"V1":3.9e-8,"V2":4.3e-8,"V3":4.1e-8},
      {"f":13.3,"H1":7.5e-10,"H2":8.6e-10,"H3":6.5e-10,"V1":4.0e-9,"V2":4.2e-9,"V3":3.3e-9},
      {"f":13.5,"H1":7.2e-10,"H2":1.2e-9,"H3":6.3e-10,"V1":5.0e-9,"V2":5.5e-9,"V3":5.2e-9},
      {"f":13.7,"H1":1.04e-9,"H2":1.8e-9,"H3":7.0e-10,"V1":3.2e-9,"V2":3.4e-9,"V3":3.1e-9},
      {"f":13.9,"H1":1.11e-9,"H2":2.55e-9,"H3":5.1e-10,"V1":9.0e-9,"V2":1.0e-8,"V3":1.07e-8},
      {"f":14.1,"H1":9.0e-10,"H2":1.7e-9,"H3":4.8e-10,"V1":3.1e-9,"V2":3.3e-9,"V3":3.0e-9},
      {"f":14.3,"H1":8.7e-10,"H2":2.1e-9,"H3":4.1e-10,"V1":2.7e-9,"V2":2.9e-9,"V3":2.84e-9},
      {"f":14.5,"H1":1.0e-9,"H2":2.0e-9,"H3":6.3e-10,"V1":5.2e-9,"V2":5.6e-9,"V3":5.9e-9},
      {"f":14.7,"H1":8.6e-10,"H2":1.45e-9,"H3":5.8e-10,"V1":4.3e-9,"V2":4.6e-9,"V3":4.7e-9},
      {"f":14.9,"H1":7.2e-10,"H2":2.2e-9,"H3":5.0e-10,"V1":3.6e-9,"V2":3.8e-9,"V3":3.7e-9},
      {"f":15.1,"H1":1.04e-9,"H2":2.0e-9,"H3":6.7e-10,"V1":2.4e-9,"V2":2.5e-9,"V3":2.5e-9},
      {"f":15.3,"H1":8.6e-10,"H2":1.3e-9,"H3":5.4e-10,"V1":1.5e-9,"V2":1.6e-9,"V3":1.5e-9},
      {"f":15.5,"H1":8.0e-10,"H2":1.1e-9,"H3":4.7e-10,"V1":1.3e-9,"V2":1.3e-9,"V3":1.24e-9},
      {"f":15.7,"H1":7.2e-10,"H2":1.04e-9,"H3":5.4e-10,"V1":1.6e-9,"V2":1.7e-9,"V3":1.8e-9},
      {"f":15.9,"H1":1.5e-9,"H2":2.2e-9,"H3":4.4e-10,"V1":2.1e-9,"V2":2.2e-9,"V3":2.13e-9},
      {"f":16.1,"H1":6.85e-9,"H2":6.4e-9,"H3":4.3e-10,"V1":2.6e-9,"V2":2.8e-9,"V3":3.0e-9},
      {"f":16.3,"H1":2.0e-9,"H2":2.0e-9,"H3":3.8e-10,"V1":6.5e-9,"V2":7.0e-9,"V3":7.9e-9},
      {"f":16.5,"H1":1.0e-9,"H2":1.1e-9,"H3":4.8e-10,"V1":2.0e-9,"V2":2.2e-9,"V3":2.13e-9},
      {"f":16.7,"H1":6.0e-10,"H2":7.2e-10,"H3":5.0e-10,"V1":3.5e-9,"V2":4.0e-9,"V3":3.8e-9},
      {"f":16.9,"H1":5.4e-10,"H2":7.7e-10,"H3":5.4e-10,"V1":5.5e-9,"V2":6.0e-9,"V3":5.9e-9},
      {"f":17.1,"H1":5.0e-10,"H2":8.6e-10,"H3":5.8e-10,"V1":1.3e-9,"V2":1.0e-9,"V3":1.2e-9},
      {"f":17.3,"H1":4.7e-10,"H2":6.5e-10,"H3":3.5e-10,"V1":9.5e-10,"V2":6.0e-10,"V3":1.04e-9},
      {"f":17.5,"H1":4.4e-10,"H2":6.0e-10,"H3":4.3e-10,"V1":8.5e-10,"V2":5.5e-10,"V3":8.0e-10},
      {"f":17.7,"H1":5.0e-10,"H2":5.1e-10,"H3":4.7e-10,"V1":2.0e-9,"V2":1.5e-9,"V3":2.0e-9},
      {"f":17.9,"H1":4.6e-10,"H2":5.0e-10,"H3":4.5e-10,"V1":2.8e-9,"V2":2.2e-9,"V3":3.16e-9},
      {"f":18.1,"H1":3.6e-10,"H2":4.8e-10,"H3":4.2e-10,"V1":1.6e-9,"V2":1.0e-9,"V3":1.48e-9},
      {"f":18.3,"H1":4.0e-10,"H2":4.6e-10,"H3":3.9e-10,"V1":3.86e-9,"V2":1.5e-9,"V3":2.2e-9},
      {"f":18.5,"H1":4.2e-10,"H2":4.1e-10,"H3":3.8e-10,"V1":1.5e-9,"V2":9.0e-10,"V3":1.2e-9},
      {"f":18.7,"H1":6.0e-10,"H2":4.7e-10,"H3":5.0e-10,"V1":8.5e-10,"V2":6.0e-10,"V3":8.0e-10},
      {"f":18.9,"H1":1.98e-9,"H2":4.5e-10,"H3":5.0e-10,"V1":1.5e-9,"V2":1.2e-9,"V3":1.6e-9},
      {"f":19.1,"H1":8.0e-10,"H2":4.3e-10,"H3":3.7e-10,"V1":2.2e-9,"V2":1.8e-9,"V3":2.46e-9},
      {"f":19.3,"H1":4.0e-10,"H2":4.0e-10,"H3":3.5e-10,"V1":9.0e-10,"V2":5.5e-10,"V3":7.2e-10},
      {"f":19.5,"H1":3.9e-10,"H2":3.8e-10,"H3":3.2e-10,"V1":1.0e-9,"V2":6.5e-10,"V3":1.0e-9},
      {"f":19.7,"H1":3.6e-10,"H2":3.6e-10,"H3":3.0e-10,"V1":1.6e-9,"V2":8.0e-10,"V3":1.48e-9},
      {"f":19.9,"H1":3.4e-10,"H2":3.4e-10,"H3":4.0e-10,"V1":8.0e-10,"V2":5.0e-10,"V3":6.3e-10},
      {"f":20.0,"H1":3.3e-10,"H2":3.5e-10,"H3":4.0e-10,"V1":9.0e-10,"V2":5.0e-10,"V3":7.5e-10},
      {"f":20.25,"V3":4.0e-10},
      {"f":20.5,"H1":4.2e-10,"H2":3.9e-10,"H3":3.2e-10,"V1":5.0e-10,"V2":3.6e-10,"V3":6.8e-10},
      {"f":20.7,"V3":3.8e-10},
      {"f":20.9,"H1":3.6e-10,"H2":3.4e-10,"H3":4.4e-10,"V1":1.3e-9,"V2":6.0e-10,"V3":1.48e-9},
      {"f":21.15,"V3":4.2e-10},
      {"f":21.4,"H1":3.2e-10,"H2":4.0e-10,"H3":3.0e-10,"V1":4.6e-10,"V2":3.5e-10,"V3":6.5e-10},
      {"f":21.65,"V3":3.9e-10},
      {"f":21.9,"H1":4.0e-10,"H2":3.6e-10,"H3":4.5e-10,"V1":8.0e-10,"V2":5.5e-10,"V3":1.0e-9},
      {"f":22.15,"V3":4.1e-10},
      {"f":22.4,"H1":3.4e-10,"H2":3.3e-10,"H3":3.3e-10,"V1":4.8e-10,"V2":3.4e-10,"V3":7.0e-10},
      {"f":22.65,"V3":3.7e-10},
      {"f":22.9,"H1":3.8e-10,"H2":4.2e-10,"H3":4.2e-10,"V1":7.2e-10,"V2":4.6e-10,"V3":8.0e-10},
      {"f":23.15,"V3":4.3e-10},
      {"f":23.4,"H1":3.1e-10,"H2":3.2e-10,"H3":3.1e-10,"V1":4.2e-10,"V2":3.3e-10,"V3":6.4e-10},
      {"f":23.65,"V3":3.9e-10},
      {"f":23.9,"H1":3.9e-10,"H2":3.8e-10,"H3":4.0e-10,"V1":6.5e-10,"V2":4.8e-10,"V3":7.0e-10},
      {"f":24.2,"V3":4.0e-10},
      {"f":24.5,"H1":3.3e-10,"H2":3.4e-10,"H3":3.0e-10,"V1":4.5e-10,"V2":3.5e-10,"V3":7.2e-10},
      {"f":24.75,"V3":3.8e-10},
      {"f":25.0,"H1":3.6e-10,"H2":3.7e-10,"H3":3.8e-10,"V1":1.6e-9,"V2":5.2e-10,"V3":1.33e-9},
      {"f":25.25,"V3":4.2e-10},
      {"f":25.5,"H1":3.2e-10,"H2":3.3e-10,"H3":3.4e-10,"V1":4.3e-10,"V2":3.6e-10,"V3":6.6e-10},
      {"f":25.75,"V3":3.9e-10},
      {"f":26.0,"H1":3.7e-10,"H2":4.0e-10,"H3":3.6e-10,"V1":7.0e-10,"V2":4.6e-10,"V3":7.6e-10},
      {"f":26.2,"V3":4.1e-10},
      {"f":26.4,"H1":3.3e-10,"H2":3.2e-10,"H3":3.2e-10,"V1":4.4e-10,"V2":3.4e-10,"V3":6.9e-10},
      {"f":26.55,"V3":3.7e-10},
      {"f":26.7,"H1":3.8e-10,"H2":3.9e-10,"H3":3.5e-10,"V1":4.7e-9,"V2":5.0e-10,"V3":4.5e-9},
      {"f":26.9,"V3":4.3e-10},
      {"f":27.1,"H1":3.2e-10,"H2":3.4e-10,"H3":3.3e-10,"V1":4.6e-10,"V2":3.6e-10,"V3":6.5e-10},
      {"f":27.35,"V3":3.9e-10},
      {"f":27.6,"H1":3.9e-10,"H2":3.8e-10,"H3":3.6e-10,"V1":7.5e-10,"V2":4.6e-10,"V3":7.2e-10},
      {"f":27.85,"V3":4.0e-10},
      {"f":28.1,"H1":3.4e-10,"H2":3.3e-10,"H3":3.1e-10,"V1":1.48e-9,"V2":4.0e-10,"V3":1.1e-9},
      {"f":28.35,"V3":3.8e-10},
      {"f":28.6,"H1":3.6e-10,"H2":3.7e-10,"H3":3.4e-10,"V1":4.5e-10,"V2":4.8e-10,"V3":6.8e-10},
      {"f":28.8,"V3":4.2e-10},
      {"f":29.0,"H1":1.56e-9,"H2":3.5e-10,"H3":3.2e-10,"V1":7.0e-10,"V2":4.0e-10,"V3":7.8e-10},
      {"f":29.2,"V3":3.9e-10},
      {"f":29.35,"H1":3.5e-10,"H2":3.6e-10,"H3":3.4e-10,"V1":4.6e-10,"V2":5.2e-10,"V3":6.6e-10},
      {"f":29.5,"V3":4.1e-10},
      {"f":29.7,"H1":3.8e-10,"H2":3.8e-10,"H3":3.6e-10,"V1":6.8e-9,"V2":5.0e-10,"V3":6.3e-9},
      {"f":29.95,"V3":3.7e-10},
      {"f":30.2,"H1":3.3e-10,"H2":3.4e-10,"H3":3.2e-10,"V1":5.0e-10,"V2":4.4e-10,"V3":7.0e-10},
      {"f":30.5,"V3":4.3e-10},
      {"f":30.8,"H1":3.7e-10,"H2":3.6e-10,"H3":3.5e-10,"V1":6.0e-9,"V2":5.0e-10,"V3":5.1e-9},
      {"f":31.1,"V3":3.9e-10},
      {"f":31.4,"H1":3.3e-10,"H2":3.5e-10,"H3":3.2e-10,"V1":4.5e-9,"V2":4.6e-10,"V3":4.0e-9},
      {"f":31.65,"V3":4.0e-10},
      {"f":31.9,"H1":3.6e-10,"H2":3.4e-10,"H3":3.4e-10,"V1":4.8e-10,"V2":4.3e-10,"V3":6.6e-10},
      {"f":32.1,"V3":3.8e-10},
      {"f":32.3,"H1":3.2e-10,"H2":3.6e-10,"H3":3.2e-10,"V1":3.3e-9,"V2":4.8e-10,"V3":2.8e-9},
      {"f":32.55,"V3":4.2e-10},
      {"f":32.8,"H1":3.5e-10,"H2":3.3e-10,"H3":3.5e-10,"V1":4.6e-10,"V2":4.0e-10,"V3":6.4e-10},
      {"f":33.0,"V3":3.9e-10},
      {"f":33.2,"H1":3.3e-10,"H2":3.5e-10,"H3":3.2e-10,"V1":2.6e-9,"V2":4.6e-10,"V3":2.1e-9},
      {"f":33.5,"V3":4.1e-10},
      {"f":33.8,"H1":3.6e-10,"H2":3.4e-10,"H3":3.4e-10,"V1":4.5e-10,"V2":3.8e-10,"V3":6.5e-10},
      {"f":34.1,"V3":3.7e-10},
      {"f":34.4,"H1":3.1e-10,"H2":3.6e-10,"H3":3.3e-10,"V1":1.5e-9,"V2":4.4e-10,"V3":1.24e-9},
      {"f":34.75,"V3":3.5e-10},
      {"f":35.1,"H1":3.4e-10,"H2":3.3e-10,"H3":3.5e-10,"V1":4.4e-10,"V2":3.5e-10,"V3":6.0e-10},
      {"f":35.45,"V3":3.1e-10},
      {"f":35.8,"H1":5.2e-10,"H2":5.5e-10,"H3":4.8e-10,"V1":6.0e-10,"V2":4.4e-10,"V3":5.7e-10},
      {"f":36.15,"V3":3.3e-10},
      {"f":36.5,"H1":3.0e-10,"H2":3.3e-10,"H3":3.1e-10,"V1":3.3e-10,"V2":3.4e-10,"V3":6.2e-10},
      {"f":36.8,"V3":2.9e-10},
      {"f":37.1,"H1":5.5e-10,"H2":5.8e-10,"H3":5.2e-10,"V1":1.0e-9,"V2":5.0e-10,"V3":7.0e-10},
      {"f":37.4,"V3":3.2e-10},
      {"f":37.7,"H1":3.0e-10,"H2":3.2e-10,"H3":3.0e-10,"V1":3.4e-10,"V2":3.2e-10,"V3":5.8e-10},
      {"f":38.0,"V3":3.4e-10},
      {"f":38.3,"H1":5.6e-10,"H2":6.0e-10,"H3":5.5e-10,"V1":8.6e-10,"V2":5.4e-10,"V3":6.6e-10},
      {"f":38.65,"V3":3.0e-10},
      {"f":39.0,"H1":2.9e-10,"H2":3.3e-10,"H3":3.0e-10,"V1":3.2e-10,"V2":3.1e-10,"V3":6.1e-10},
      {"f":39.3,"V3":3.2e-10},
      {"f":39.6,"H1":5.7e-10,"H2":6.2e-10,"H3":5.8e-10,"V1":5.8e-10,"V2":5.5e-10,"V3":5.6e-10},
      {"f":39.9,"V3":2.8e-10},
      {"f":40.2,"H1":7.4e-10,"H2":3.4e-10,"H3":3.1e-10,"V1":3.0e-10,"V2":3.2e-10,"V3":6.3e-10},
      {"f":40.6,"V3":3.1e-10},
      {"f":41.0,"H1":3.0e-10,"H2":6.4e-10,"H3":6.0e-10,"V1":5.9e-10,"V2":5.6e-10,"V3":5.9e-10},
      {"f":41.4,"V3":3.3e-10},
      {"f":41.8,"H1":5.8e-10,"H2":3.3e-10,"H3":3.0e-10,"V1":2.9e-10,"V2":3.0e-10,"V3":6.0e-10},
      {"f":42.2,"V3":2.9e-10},
      {"f":42.6,"H1":3.1e-10,"H2":6.0e-10,"H3":5.9e-10,"V1":6.0e-10,"V2":5.8e-10,"V3":5.7e-10},
      {"f":42.95,"V3":3.2e-10},
      {"f":43.3,"H1":5.9e-10,"H2":3.4e-10,"H3":3.2e-10,"V1":1.75e-9,"V2":3.1e-10,"V3":1.15e-9},
      {"f":43.65,"V3":3.4e-10},
      {"f":44.0,"H1":3.0e-10,"H2":6.3e-10,"H3":6.1e-10,"V1":3.0e-10,"V2":5.8e-10,"V3":6.2e-10},
      {"f":44.3,"V3":3.0e-10},
      {"f":44.6,"H1":5.7e-10,"H2":3.3e-10,"H3":2.8e-9,"V1":2.4e-9,"V2":1.5e-9,"V3":5.8e-10},
      {"f":45.0,"V3":3.2e-10},
      {"f":45.4,"H1":3.1e-10,"H2":6.0e-10,"H3":3.1e-10,"V1":3.0e-10,"V2":3.1e-10,"V3":6.1e-10},
      {"f":45.85,"V3":2.8e-10},
      {"f":46.3,"H1":6.0e-10,"H2":3.3e-10,"H3":1.7e-9,"V1":5.7e-10,"V2":5.6e-10,"V3":5.6e-10},
      {"f":46.75,"V3":3.1e-10},
      {"f":47.2,"H1":3.0e-10,"H2":6.5e-10,"H3":3.0e-10,"V1":2.9e-10,"V2":3.2e-10,"V3":6.3e-10},
      {"f":47.65,"V3":3.3e-10},
      {"f":48.1,"H1":5.8e-10,"H2":3.2e-10,"H3":6.2e-10,"V1":6.0e-10,"V2":5.7e-10,"V3":5.9e-10},
      {"f":48.55,"V3":2.9e-10},
      {"f":49.0,"H1":3.2e-10,"H2":6.1e-10,"H3":3.0e-10,"V1":2.8e-10,"V2":3.0e-10,"V3":6.0e-10},
      {"f":49.5,"V3":3.2e-10},
      {"f":50.0,"H1":6.1e-10,"H2":3.4e-10,"H3":6.0e-10,"V1":5.8e-10,"V2":5.6e-10,"V3":5.7e-10},
      {"f":50.6,"V3":3.4e-10},
      {"f":51.2,"H1":3.0e-10,"H2":6.4e-10,"H3":3.1e-10,"V1":2.9e-10,"V2":3.1e-10,"V3":6.2e-10},
      {"f":51.85,"V3":3.0e-10},
      {"f":52.5,"H1":5.9e-10,"H2":3.3e-10,"H3":5.8e-10,"V1":6.1e-10,"V2":5.9e-10,"V3":5.8e-10},
      {"f":53.25,"V3":3.2e-10},
      {"f":54.0,"H1":3.1e-10,"H2":6.2e-10,"H3":7.2e-10,"V1":3.0e-10,"V2":3.2e-10,"V3":6.1e-10},
      {"f":54.7,"V3":2.8e-10},
      {"f":55.4,"H1":6.0e-10,"H2":3.2e-10,"H3":3.0e-10,"V1":5.9e-10,"V2":6.0e-10,"V3":5.6e-10},
      {"f":55.95,"V3":3.1e-10},
      {"f":56.5,"H1":3.0e-10,"H2":6.3e-10,"H3":6.0e-10,"V1":3.1e-10,"V2":3.2e-10,"V3":6.3e-10},
      {"f":56.95,"V3":3.3e-10},
      {"f":57.4,"H1":5.9e-10,"H2":3.4e-10,"H3":3.1e-10,"V1":8.0e-10,"V2":1.6e-9,"V3":1.4e-9},
      {"f":57.65,"V3":3.4e-10},
      {"f":57.95,"V3":1.35e-9},
      {"f":58.2,"V3":3.2e-10},
      {"f":58.5,"H1":3.1e-10,"H2":6.0e-10,"H3":5.9e-10,"V1":9.0e-10,"V2":1.2e-9,"V3":1.3e-9},
      {"f":58.75,"V3":3.3e-10},
      {"f":59.0,"V3":1.3e-9},
      {"f":59.25,"V3":3.1e-10},
      {"f":59.5,"H1":5.8e-10,"H2":3.3e-10,"H3":3.0e-10,"V1":5.5e-10,"V2":6.0e-10,"V3":1.25e-9},
      {"f":60.15,"V3":3.0e-10},
      {"f":60.8,"H1":3.0e-10,"H2":6.4e-10,"H3":6.2e-10,"V1":2.9e-10,"V2":3.1e-10,"V3":5.9e-10},
      {"f":61.5,"V3":3.2e-10},
      {"f":62.2,"H1":6.1e-10,"H2":3.2e-10,"H3":3.0e-10,"V1":6.0e-10,"V2":5.8e-10,"V3":6.0e-10},
      {"f":62.9,"V3":2.9e-10},
      {"f":63.6,"H1":3.1e-10,"H2":6.1e-10,"H3":6.0e-10,"V1":2.8e-10,"V2":3.1e-10,"V3":5.7e-10},
      {"f":64.3,"V3":3.2e-10},
      {"f":65.0,"H1":5.8e-10,"H2":3.4e-10,"H3":3.1e-10,"V1":5.8e-10,"V2":5.7e-10,"V3":6.2e-10},
      {"f":65.75,"V3":3.4e-10},
      {"f":66.5,"H1":2.9e-10,"H2":6.5e-10,"H3":6.1e-10,"V1":2.9e-10,"V2":3.0e-10,"V3":5.8e-10},
      {"f":67.25,"V3":3.0e-10},
      {"f":68.0,"H1":6.0e-10,"H2":3.3e-10,"H3":2.9e-10,"V1":6.1e-10,"V2":6.0e-10,"V3":6.1e-10},
      {"f":68.75,"V3":3.2e-10},
      {"f":69.5,"H1":3.0e-10,"H2":6.2e-10,"H3":6.3e-10,"V1":2.7e-10,"V2":3.1e-10,"V3":5.6e-10},
      {"f":70.25,"V3":2.8e-10},
      {"f":71.0,"H1":6.2e-10,"H2":3.2e-10,"H3":3.0e-10,"V1":5.9e-10,"V2":5.6e-10,"V3":6.3e-10},
      {"f":71.8,"V3":3.1e-10},
      {"f":72.6,"H1":3.1e-10,"H2":6.6e-10,"H3":5.9e-10,"V1":2.9e-10,"V2":3.2e-10,"V3":5.9e-10},
      {"f":73.4,"V3":3.3e-10},
      {"f":74.2,"H1":5.9e-10,"H2":3.3e-10,"H3":3.1e-10,"V1":6.0e-10,"V2":5.8e-10,"V3":6.0e-10},
      {"f":75.0,"V3":2.9e-10},
      {"f":75.8,"H1":3.0e-10,"H2":6.1e-10,"H3":6.2e-10,"V1":3.0e-10,"V2":3.1e-10,"V3":5.7e-10},
      {"f":76.65,"V3":3.2e-10},
      {"f":77.5,"H1":6.1e-10,"H2":3.4e-10,"H3":3.0e-10,"V1":5.7e-10,"V2":5.9e-10,"V3":6.2e-10},
      {"f":78.35,"V3":3.4e-10},
      {"f":79.2,"H1":3.0e-10,"H2":6.3e-10,"H3":6.0e-10,"V1":2.8e-10,"V2":3.0e-10,"V3":5.8e-10},
      {"f":80.1,"V3":3.0e-10},
      {"f":81.0,"H1":5.8e-10,"H2":3.2e-10,"H3":3.1e-10,"V1":6.1e-10,"V2":5.7e-10,"V3":6.1e-10},
      {"f":81.9,"V3":3.2e-10},
      {"f":82.8,"H1":3.2e-10,"H2":6.4e-10,"H3":6.4e-10,"V1":3.0e-10,"V2":2.9e-10,"V3":5.6e-10},
      {"f":83.7,"V3":2.8e-10},
      {"f":84.6,"H1":6.0e-10,"H2":3.3e-10,"H3":2.9e-10,"V1":5.8e-10,"V2":6.0e-10,"V3":6.3e-10},
      {"f":85.55,"V3":3.1e-10},
      {"f":86.5,"H1":2.9e-10,"H2":6.2e-10,"H3":6.1e-10,"V1":2.9e-10,"V2":3.1e-10,"V3":5.9e-10},
      {"f":87.45,"V3":3.3e-10},
      {"f":88.4,"H1":6.2e-10,"H2":3.3e-10,"H3":3.0e-10,"V1":6.0e-10,"V2":5.8e-10,"V3":6.0e-10},
      {"f":89.4,"V3":2.9e-10},
      {"f":90.4,"H1":3.1e-10,"H2":6.5e-10,"H3":6.2e-10,"V1":2.8e-10,"V2":3.0e-10,"V3":5.7e-10},
      {"f":91.4,"V3":3.2e-10},
      {"f":92.4,"H1":5.9e-10,"H2":3.2e-10,"H3":3.0e-10,"V1":6.2e-10,"V2":5.9e-10,"V3":6.2e-10},
      {"f":93.4,"V3":3.4e-10},
      {"f":94.4,"H1":3.0e-10,"H2":6.3e-10,"H3":6.3e-10,"V1":3.0e-10,"V2":2.8e-10,"V3":5.8e-10},
      {"f":95.45,"V3":3.0e-10},
      {"f":96.5,"H1":6.1e-10,"H2":3.3e-10,"H3":3.1e-10,"V1":5.9e-10,"V2":5.8e-10,"V3":6.1e-10},
      {"f":97.55,"V3":3.2e-10},
      {"f":98.6,"H1":3.1e-10,"H2":6.2e-10,"H3":6.0e-10,"V1":2.9e-10,"V2":3.0e-10,"V3":5.6e-10},
      {"f":99.7,"V3":2.8e-10},
      {"f":100.8,"H1":6.0e-10,"H2":3.4e-10,"H3":3.0e-10,"V1":6.1e-10,"V2":6.0e-10,"V3":6.3e-10},
      {"f":101.9,"V3":3.1e-10},
      {"f":103,"H1":3.0e-10,"H2":6.4e-10,"H3":6.2e-10,"V1":2.8e-10,"V2":3.1e-10,"V3":5.9e-10},
      {"f":104.15,"V3":3.3e-10},
      {"f":105.3,"H1":6.2e-10,"H2":3.2e-10,"H3":2.9e-10,"V1":5.8e-10,"V2":5.9e-10,"V3":6.0e-10},
      {"f":106.45,"V3":2.9e-10},
      {"f":107.6,"H1":3.1e-10,"H2":6.6e-10,"H3":6.6e-10,"V1":2.9e-10,"V2":3.0e-10,"V3":5.7e-10},
      {"f":108.8,"V3":3.2e-10},
      {"f":110,"H1":5.9e-10,"H2":3.3e-10,"H3":3.1e-10,"V1":6.0e-10,"V2":5.7e-10,"V3":6.2e-10},
      {"f":111.2,"V3":3.4e-10},
      {"f":112.4,"H1":3.0e-10,"H2":6.3e-10,"H3":6.0e-10,"V1":3.0e-10,"V2":2.9e-10,"V3":5.8e-10},
      {"f":113.65,"V3":3.0e-10},
      {"f":114.9,"H1":6.1e-10,"H2":3.4e-10,"H3":3.0e-10,"V1":6.1e-10,"V2":6.1e-10,"V3":6.1e-10},
      {"f":116.15,"V3":3.2e-10},
      {"f":117.4,"H1":3.0e-10,"H2":6.2e-10,"H3":6.3e-10,"V1":2.7e-10,"V2":3.1e-10,"V3":5.6e-10},
      {"f":118.7,"V3":2.8e-10},
      {"f":120,"H1":6.0e-10,"H2":3.3e-10,"H3":3.1e-10,"V1":5.9e-10,"V2":5.8e-10,"V3":6.3e-10},
      {"f":121.3,"V3":3.1e-10},
      {"f":122.6,"H1":3.1e-10,"H2":6.5e-10,"H3":6.1e-10,"V1":3.0e-10,"V2":3.0e-10,"V3":5.9e-10},
      {"f":123.95,"V3":3.3e-10},
      {"f":125.3,"H1":6.2e-10,"H2":3.2e-10,"H3":3.0e-10,"V1":6.0e-10,"V2":5.9e-10,"V3":6.0e-10},
      {"f":126.65,"V3":2.9e-10},
      {"f":128,"H1":3.0e-10,"H2":6.3e-10,"H3":6.4e-10,"V1":2.8e-10,"V2":3.1e-10,"V3":5.7e-10},
      {"f":129.4,"V3":3.2e-10},
      {"f":130.8,"H1":5.9e-10,"H2":3.3e-10,"H3":2.9e-10,"V1":6.1e-10,"V2":6.0e-10,"V3":6.2e-10},
      {"f":132.25,"V3":3.4e-10},
      {"f":133.7,"H1":3.1e-10,"H2":6.4e-10,"H3":6.2e-10,"V1":2.9e-10,"V2":2.9e-10,"V3":5.8e-10},
      {"f":135.15,"V3":3.0e-10},
      {"f":136.6,"H1":6.1e-10,"H2":3.4e-10,"H3":3.1e-10,"V1":5.8e-10,"V2":5.8e-10,"V3":6.1e-10},
      {"f":138.1,"V3":3.2e-10},
      {"f":139.6,"H1":3.0e-10,"H2":6.2e-10,"H3":6.0e-10,"V1":3.0e-10,"V2":3.1e-10,"V3":5.6e-10},
      {"f":141.15,"V3":2.8e-10},
      {"f":142.7,"H1":6.0e-10,"H2":3.3e-10,"H3":3.0e-10,"V1":6.0e-10,"V2":6.1e-10,"V3":6.3e-10},
      {"f":144.25,"V3":3.1e-10},
      {"f":145.8,"H1":3.1e-10,"H2":6.5e-10,"H3":6.5e-10,"V1":2.8e-10,"V2":3.0e-10,"V3":5.9e-10},
      {"f":147.4,"V3":3.3e-10},
      {"f":149,"H1":6.2e-10,"H2":3.2e-10,"H3":3.1e-10,"V1":6.1e-10,"V2":5.9e-10,"V3":6.0e-10},
      {"f":150.65,"V3":2.9e-10},
      {"f":152.3,"H1":3.0e-10,"H2":6.3e-10,"H3":6.1e-10,"V1":2.7e-10,"V2":3.1e-10,"V3":5.7e-10},
      {"f":153.95,"V3":3.2e-10},
      {"f":155.6,"H1":5.9e-10,"H2":3.4e-10,"H3":2.9e-10,"V1":5.9e-10,"V2":6.0e-10,"V3":6.2e-10},
      {"f":157.3,"V3":3.4e-10},
      {"f":159,"H1":3.1e-10,"H2":6.6e-10,"H3":6.3e-10,"V1":3.0e-10,"V2":2.9e-10,"V3":5.8e-10},
      {"f":160.75,"V3":3.0e-10},
      {"f":162.5,"H1":6.1e-10,"H2":3.3e-10,"H3":3.0e-10,"V1":6.0e-10,"V2":5.8e-10,"V3":6.1e-10},
      {"f":164.25,"V3":3.2e-10},
      {"f":166,"H1":3.0e-10,"H2":6.4e-10,"H3":6.2e-10,"V1":2.8e-10,"V2":3.1e-10,"V3":5.6e-10},
      {"f":167.85,"V3":2.8e-10},
      {"f":169.7,"H1":6.0e-10,"H2":3.2e-10,"H3":3.1e-10,"V1":6.1e-10,"V2":6.0e-10,"V3":6.3e-10},
      {"f":171.55,"V3":3.1e-10},
      {"f":173.4,"H1":3.1e-10,"H2":6.5e-10,"H3":6.4e-10,"V1":2.9e-10,"V2":3.0e-10,"V3":5.9e-10},
      {"f":175.3,"V3":3.3e-10},
      {"f":177.2,"H1":6.2e-10,"H2":3.3e-10,"H3":3.0e-10,"V1":5.8e-10,"V2":5.9e-10,"V3":6.0e-10},
      {"f":179.15,"V3":2.9e-10},
      {"f":181.1,"H1":3.0e-10,"H2":7.0e-10,"H3":6.1e-10,"V1":2.4e-10,"V2":3.0e-10,"V3":5.7e-10},
      {"f":183.05,"V3":3.2e-10},
      {"f":185,"H1":6.0e-10,"H2":3.4e-10,"H3":2.9e-10,"V1":6.0e-10,"V2":6.1e-10,"V3":6.2e-10},
      {"f":187,"V3":3.4e-10},
      {"f":189,"H1":3.1e-10,"H2":6.3e-10,"H3":6.3e-10,"V1":2.9e-10,"V2":3.0e-10,"V3":5.8e-10},
      {"f":191.1,"V3":3.0e-10},
      {"f":193.2,"H1":6.1e-10,"H2":3.3e-10,"H3":3.0e-10,"V1":6.1e-10,"V2":5.8e-10,"V3":6.1e-10},
      {"f":195.3,"V3":3.2e-10},
      {"f":197.4,"H1":3.2e-10,"H2":6.8e-10,"H3":6.0e-10,"V1":2.6e-10,"V2":3.1e-10,"V3":5.6e-10},
      {"f":198.7,"V3":2.8e-10},
      {"f":200,"H1":6.0e-10,"H2":6.5e-10,"H3":6.2e-10,"V1":5.9e-10,"V2":6.0e-10,"V3":6.0e-10}
    ]
  },
  "layer": [
    {
      "data": {"name": "cps"},
      "transform": [
        {"fold": ["H1", "H2", "H3", "V1", "V2", "V3"], "as": ["k", "v"]},
        {"filter": "isValid(datum.v)"}
      ],
      "encoding": {
        "x": {
          "field": "f",
          "type": "quantitative",
          "scale": {"type": "log", "domain": [0.01, 200], "nice": false},
          "axis": {
            "values": [0.01,0.02,0.03,0.04,0.05,0.06,0.07,0.08,0.09,0.1,0.2,0.3,0.4,0.5,0.6,0.7,0.8,0.9,1,2,3,4,5,6,7,8,9,10,20,30,40,50,60,70,80,90,100,200],
            "labelExpr": "datum.value == 0.01 ? '10⁻²' : datum.value == 0.1 ? '10⁻¹' : datum.value == 1 ? '10⁰' : datum.value == 10 ? '10¹' : datum.value == 100 ? '10²' : ''",
            "labelOverlap": false,
            "labelFlush": false,
            "labelBound": false,
            "labelFontSize": 15,
            "labelPadding": 4,
            "tickSize": 5,
            "grid": true,
            "gridColor": "#b0b0b0",
            "gridWidth": 1.3,
            "domain": false,
            "title": "Freq (hz)",
            "titleFontSize": 25,
            "titleX": 930,
            "titleY": 45.5,
            "titleBaseline": "middle",
            "titleAlign": "center"
          }
        },
        "y": {
          "field": "v",
          "type": "quantitative",
          "scale": {"type": "log", "domain": [5.59e-11, 2.12e-6], "nice": false},
          "axis": {
            "values": [6e-11,7e-11,8e-11,9e-11,1e-10,2e-10,3e-10,4e-10,5e-10,6e-10,7e-10,8e-10,9e-10,1e-9,2e-9,3e-9,4e-9,5e-9,6e-9,7e-9,8e-9,9e-9,1e-8,2e-8,3e-8,4e-8,5e-8,6e-8,7e-8,8e-8,9e-8,1e-7,2e-7,3e-7,4e-7,5e-7,6e-7,7e-7,8e-7,9e-7,1e-6,2e-6],
            "labelExpr": "datum.value == 1e-10 ? '10⁻¹⁰' : datum.value == 1e-9 ? '10⁻⁹' : datum.value == 1e-8 ? '10⁻⁸' : datum.value == 1e-7 ? '10⁻⁷' : datum.value == 1e-6 ? '10⁻⁶' : ''",
            "labelOverlap": false,
            "labelFlush": false,
            "labelBound": false,
            "labelFontSize": 15,
            "labelPadding": 3,
            "tickSize": 5,
            "grid": true,
            "gridColor": "#b0b0b0",
            "gridWidth": 1.3,
            "domain": false,
            "title": "m/rthz",
            "titleFontSize": 25,
            "titleAngle": 270,
            "titleX": -64.5,
            "titleY": 619,
            "titleBaseline": "middle",
            "titleAlign": "center"
          }
        }
      },
      "layer": [
        {
          "transform": [{"filter": "datum.k == 'H1'"}],
          "mark": {"type": "line", "strokeWidth": 3.6, "strokeJoin": "round"},
          "encoding": {
            "color": {
              "datum": "HAM6_CPSINF_H1",
              "type": "nominal",
              "scale": {
                "domain": ["HAM6_CPSINF_H1", "HAM6_CPSINF_H2", "HAM6_CPSINF_H3", "HAM6_CPSINF_V1", "HAM6_CPSINF_V2", "HAM6_CPSINF_V3", "ADE 1mm noise"],
                "range": ["#1f77b4", "#ff7f0e", "#2ca02c", "#d62728", "#9467bd", "#8c564b", "#e377c2"]
              },
              "legend": {"title": null}
            }
          }
        },
        {
          "transform": [{"filter": "datum.k == 'H2'"}],
          "mark": {"type": "line", "strokeWidth": 3.6, "strokeJoin": "round"},
          "encoding": {
            "color": {
              "datum": "HAM6_CPSINF_H2",
              "type": "nominal",
              "scale": {
                "domain": ["HAM6_CPSINF_H1", "HAM6_CPSINF_H2", "HAM6_CPSINF_H3", "HAM6_CPSINF_V1", "HAM6_CPSINF_V2", "HAM6_CPSINF_V3", "ADE 1mm noise"],
                "range": ["#1f77b4", "#ff7f0e", "#2ca02c", "#d62728", "#9467bd", "#8c564b", "#e377c2"]
              }
            }
          }
        },
        {
          "transform": [{"filter": "datum.k == 'H3'"}],
          "mark": {"type": "line", "strokeWidth": 3.6, "strokeJoin": "round"},
          "encoding": {
            "color": {
              "datum": "HAM6_CPSINF_H3",
              "type": "nominal",
              "scale": {
                "domain": ["HAM6_CPSINF_H1", "HAM6_CPSINF_H2", "HAM6_CPSINF_H3", "HAM6_CPSINF_V1", "HAM6_CPSINF_V2", "HAM6_CPSINF_V3", "ADE 1mm noise"],
                "range": ["#1f77b4", "#ff7f0e", "#2ca02c", "#d62728", "#9467bd", "#8c564b", "#e377c2"]
              }
            }
          }
        },
        {
          "transform": [{"filter": "datum.k == 'V1'"}],
          "mark": {"type": "line", "strokeWidth": 3.6, "strokeJoin": "round"},
          "encoding": {
            "color": {
              "datum": "HAM6_CPSINF_V1",
              "type": "nominal",
              "scale": {
                "domain": ["HAM6_CPSINF_H1", "HAM6_CPSINF_H2", "HAM6_CPSINF_H3", "HAM6_CPSINF_V1", "HAM6_CPSINF_V2", "HAM6_CPSINF_V3", "ADE 1mm noise"],
                "range": ["#1f77b4", "#ff7f0e", "#2ca02c", "#d62728", "#9467bd", "#8c564b", "#e377c2"]
              }
            }
          }
        },
        {
          "transform": [{"filter": "datum.k == 'V2'"}],
          "mark": {"type": "line", "strokeWidth": 3.6, "strokeJoin": "round"},
          "encoding": {
            "color": {
              "datum": "HAM6_CPSINF_V2",
              "type": "nominal",
              "scale": {
                "domain": ["HAM6_CPSINF_H1", "HAM6_CPSINF_H2", "HAM6_CPSINF_H3", "HAM6_CPSINF_V1", "HAM6_CPSINF_V2", "HAM6_CPSINF_V3", "ADE 1mm noise"],
                "range": ["#1f77b4", "#ff7f0e", "#2ca02c", "#d62728", "#9467bd", "#8c564b", "#e377c2"]
              }
            }
          }
        },
        {
          "transform": [{"filter": "datum.k == 'V3'"}],
          "mark": {"type": "line", "strokeWidth": 3.6, "strokeJoin": "round"},
          "encoding": {
            "color": {
              "datum": "HAM6_CPSINF_V3",
              "type": "nominal",
              "scale": {
                "domain": ["HAM6_CPSINF_H1", "HAM6_CPSINF_H2", "HAM6_CPSINF_H3", "HAM6_CPSINF_V1", "HAM6_CPSINF_V2", "HAM6_CPSINF_V3", "ADE 1mm noise"],
                "range": ["#1f77b4", "#ff7f0e", "#2ca02c", "#d62728", "#9467bd", "#8c564b", "#e377c2"]
              }
            }
          }
        }
      ]
    },
    {
      "data": {"name": "ade"},
      "mark": {"type": "line", "strokeWidth": 3.6, "strokeJoin": "round"},
      "encoding": {
        "x": {
          "field": "f",
          "type": "quantitative",
          "scale": {"type": "log", "domain": [0.01, 200], "nice": false},
          "axis": {
            "orient": "bottom",
            "labels": false,
            "ticks": false,
            "grid": false,
            "domain": false,
            "title": "calibration only >10hz",
            "titleFontSize": 16.5,
            "titleX": 921,
            "titleY": 90.7,
            "titleBaseline": "middle",
            "titleAlign": "center"
          }
        },
        "y": {
          "field": "a",
          "type": "quantitative",
          "scale": {"type": "log", "domain": [5.59e-11, 2.12e-6], "nice": false},
          "axis": {
            "orient": "right",
            "labels": false,
            "ticks": false,
            "grid": false,
            "domain": false,
            "title": "/opt/rtcds/userapps/trunk/sys/h1/scripts/HAM_cps_spectra.py",
            "titleFontSize": 16,
            "titleAngle": 270,
            "titleX": 126.5,
            "titleY": 688,
            "titleBaseline": "middle",
            "titleAlign": "center"
          }
        },
        "color": {
          "datum": "ADE 1mm noise",
          "type": "nominal",
          "scale": {
            "domain": ["HAM6_CPSINF_H1", "HAM6_CPSINF_H2", "HAM6_CPSINF_H3", "HAM6_CPSINF_V1", "HAM6_CPSINF_V2", "HAM6_CPSINF_V3", "ADE 1mm noise"],
            "range": ["#1f77b4", "#ff7f0e", "#2ca02c", "#d62728", "#9467bd", "#8c564b", "#e377c2"]
          }
        }
      }
    }
  ],
  "resolve": {"scale": {"x": "independent", "y": "independent"}},
  "config": {
    "font": "DejaVu Sans",
    "view": {"stroke": "black", "strokeWidth": 1.5},
    "axis": {
      "titleFontWeight": "normal",
      "labelColor": "black",
      "titleColor": "black",
      "tickColor": "black",
      "labelFont": "DejaVu Sans",
      "titleFont": "DejaVu Sans"
    },
    "title": {"fontWeight": "normal", "color": "black", "font": "DejaVu Sans"},
    "legend": {
      "orient": "none",
      "legendX": 1500,
      "legendY": 13,
      "symbolType": "M-0.73,0H2.08",
      "symbolSize": 1764,
      "symbolStrokeWidth": 4,
      "labelFontSize": 27.5,
      "labelFont": "DejaVu Sans",
      "labelColor": "black",
      "labelOffset": 43,
      "rowPadding": 5.6,
      "padding": 5,
      "fillColor": "rgba(255,255,255,0.8)",
      "strokeColor": "#cccccc",
      "cornerRadius": 6,
      "labelLimit": 400
    }
  }
}
